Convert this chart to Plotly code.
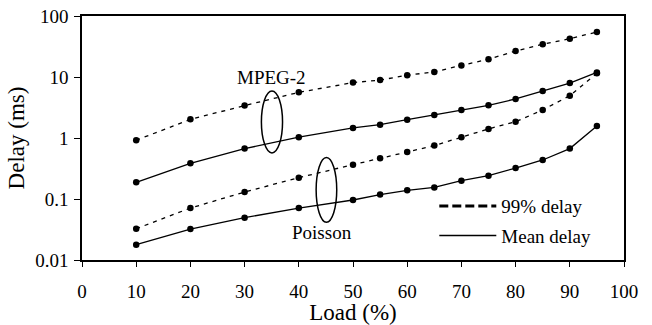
import numpy as np
import plotly.graph_objects as go

load = [10, 20, 30, 40, 50, 55, 60, 65, 70, 75, 80, 85, 90, 95]
mpeg_99 = [0.92, 2.02, 3.4, 5.6, 8.1, 8.9, 10.7, 12.1, 15.5, 19.5, 26.7, 34.4, 42.5, 54.7]
mpeg_mean = [0.188, 0.385, 0.67, 1.03, 1.46, 1.65, 2.0, 2.38, 2.88, 3.43, 4.36, 5.9, 7.97, 11.9]
poisson_99 = [0.0326, 0.071, 0.130, 0.224, 0.365, 0.465, 0.59, 0.75, 1.03, 1.41, 1.85, 2.88, 4.94, 11.5]
poisson_mean = [0.0178, 0.0322, 0.0494, 0.071, 0.0963, 0.118, 0.139, 0.155, 0.2, 0.241, 0.322, 0.436, 0.67, 1.57]

x_ticks = [0, 10, 20, 30, 40, 50, 60, 70, 80, 90, 100]
y_ticks = [0.01, 0.1, 1, 10, 100]
y_tick_text = ["0.01", "0.1", "1", "10", "100"]

FONT = "Liberation Serif"
FS = 19
BLACK = "#000000"

fig = go.Figure()

def add_series(y, dashed):
    fig.add_trace(go.Scatter(
        x=load, y=y, mode="lines+markers", showlegend=False,
        line=dict(color=BLACK, width=1.3,
                  dash="4px,5px" if dashed else "solid"),
        marker=dict(color=BLACK, size=6.5),
    ))

add_series(mpeg_99, True)
add_series(mpeg_mean, False)
add_series(poisson_99, True)
add_series(poisson_mean, False)

# legend entries
fig.add_trace(go.Scatter(x=[None], y=[None], mode="lines", name="99% delay",
                         legendgroup="a",
                         line=dict(color=BLACK, width=3, dash="9px,4px")))
fig.add_trace(go.Scatter(x=[None], y=[None], mode="lines", name="Mean delay",
                         legendgroup="b",
                         line=dict(color=BLACK, width=1.5)))

# ellipses
fig.add_shape(type="circle", xref="x", yref="y", x0=33.1, x1=37.0, y0=0.57, y1=5.9,
              line=dict(color=BLACK, width=1.5))
fig.add_shape(type="circle", xref="x", yref="y", x0=43.2, x1=47.0, y0=0.0415, y1=0.48,
              line=dict(color=BLACK, width=1.5))

fig.add_annotation(x=35, y=np.log10(10.0), text="MPEG-2", showarrow=False,
                   font=dict(family=FONT, size=FS, color=BLACK))
fig.add_annotation(x=44.2, y=np.log10(0.0285), text="Poisson", showarrow=False,
                   font=dict(family=FONT, size=FS, color=BLACK))

fig.update_layout(
    width=652, height=325,
    margin=dict(l=82, r=28, t=16, b=65, autoexpand=False),
    paper_bgcolor="white", plot_bgcolor="white",
    font=dict(family=FONT, size=FS, color=BLACK),
    showlegend=True,
    legend=dict(x=0.65, y=0.299, xanchor="left", yanchor="top",
                bgcolor="rgba(0,0,0,0)", itemwidth=57, tracegroupgap=2,
                font=dict(family=FONT, size=FS, color=BLACK)),
    xaxis=dict(range=[0, 100], tickvals=x_ticks, ticks="outside", ticklen=5,
               tickcolor=BLACK, showline=True, linecolor=BLACK, linewidth=1.5,
               mirror=True, showgrid=False, zeroline=False, automargin=False,
               ticklabelstandoff=8,
               title=dict(text="Load (%)", standoff=0),
               tickfont=dict(family=FONT, size=FS)),
    yaxis=dict(type="log", range=[-2, 2], tickvals=y_ticks, ticktext=y_tick_text,
               ticks="outside", ticklen=6, tickcolor=BLACK, showline=True,
               linecolor=BLACK, linewidth=1.5, mirror=True, showgrid=False,
               zeroline=False, automargin=False, ticklabelstandoff=2,
               title=dict(text="Delay (ms)", standoff=4),
               tickfont=dict(family=FONT, size=FS)),
)

fig.write_html("out.html",
               config={"displayModeBar": False},
               post_script="document.body.style.margin='0';document.body.style.overflow='hidden';")
